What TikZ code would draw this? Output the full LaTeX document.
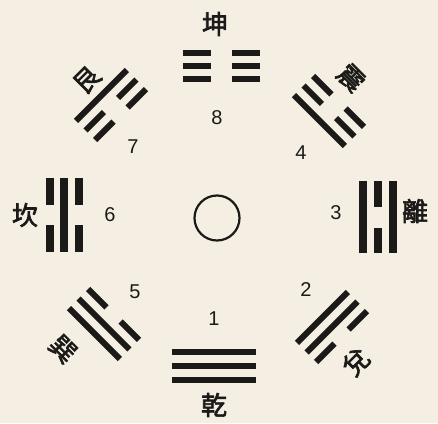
\documentclass[tikz,border=0pt]{standalone}
\usepackage{fontspec}
\setmainfont{Liberation Sans}
\newfontfamily\cjk[FakeBold=2.5]{Noto Sans CJK TC}
\definecolor{paper}{RGB}{244,239,226}
\definecolor{ink}{RGB}{28,26,24}
\newcommand\yao[2]{%
  \ifnum#2=1
    \fill[ink] (-0.5*\LL pt,#1pt-0.5*\TT pt) rectangle (0.5*\LL pt,#1pt+0.5*\TT pt);
  \else
    \fill[ink] (-0.5*\LL pt,#1pt-0.5*\TT pt) rectangle (-0.5*\GG pt,#1pt+0.5*\TT pt);
    \fill[ink] (0.5*\GG pt,#1pt-0.5*\TT pt) rectangle (0.5*\LL pt,#1pt+0.5*\TT pt);
  \fi}
\newcommand\trig[6]{%
  \begin{scope}[shift={(#1,#2)},rotate=#3]
    \yao{-\SP}{#4}\yao{0}{#5}\yao{\SP}{#6}
  \end{scope}}
\tikzset{
  gua/.style={font=\cjk\fontsize{26}{26}\selectfont, text=ink, inner sep=0pt},
  num/.style={font=\fontsize{20}{20}\selectfont, text=ink, inner sep=0pt}
}
\begin{document}
\begin{tikzpicture}[x=1pt,y=-1pt]
\fill[paper] (0,0) rectangle (438,423);
\useasboundingbox (0,0) rectangle (438,423);
% centre
\draw[ink, line width=2.2pt] (217,218) circle[radius=22.5];
% trigrams: inner line first
% Qian (bottom)
\def\LL{84}\def\GG{20}\def\TT{5.5}\def\SP{14}
\trig{214}{366}{180}{1}{1}{1}
% Kun (top)
\def\LL{77}\def\GG{21}\def\TT{5.5}\def\SP{13}
\trig{221}{66}{0}{0}{0}{0}
% Kan (left)
\def\LL{74}\def\GG{20}\def\TT{8}\def\SP{14.5}
\trig{64}{215}{90}{0}{1}{0}
% Li (right)
\def\LL{72}\def\GG{21}\def\TT{7.5}\def\SP{15}
\trig{378}{217}{-90}{1}{0}{1}
% diagonals
\def\LL{72}\def\GG{20}\def\TT{6}\def\SP{13.5}
\trig{329}{111}{-45}{1}{0}{0}
\trig{332}{327}{-135}{1}{1}{0}
\trig{104}{324}{135}{0}{1}{1}
\trig{111}{105}{45}{0}{0}{1}
% names
\node[gua] (kun) at (215,24) {坤};
\node[gua] (qian) at (214,405) {乾};
\node[gua] (kan) at (25,215) {坎};
\node[gua] (li) at (415,211) {離};
\node[gua, rotate=-45] (zhen) at (351,78) {震};
\node[gua, rotate=45] (gen) at (87,80) {艮};
\node[gua, rotate=-45] (xun) at (63,349) {巽};
\node[gua, rotate=45] (dui) at (356,362) {兌};
% numbers
\node[num] (n1) at (214,319) {1};
\node[num] (n2) at (306,290) {2};
\node[num] (n3) at (336,213) {3};
\node[num] (n4) at (301,153) {4};
\node[num] (n5) at (135,292) {5};
\node[num] (n6) at (110,215) {6};
\node[num] (n7) at (133,147) {7};
\node[num] (n8) at (217,118) {8};
\end{tikzpicture}
\end{document}
